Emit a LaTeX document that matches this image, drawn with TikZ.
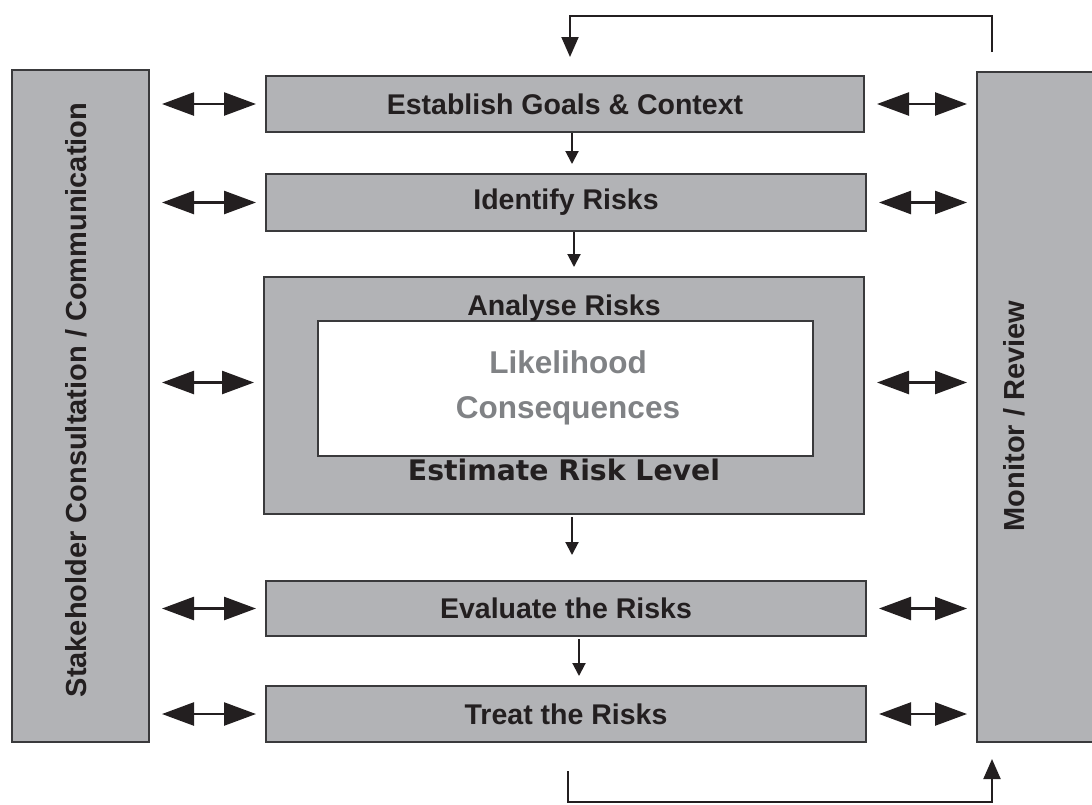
\documentclass[tikz,border=0pt]{standalone}
\usepackage{fontspec}
\setmainfont{Liberation Sans}
\newfontfamily\verdana{DejaVu Sans}
\usetikzlibrary{arrows.meta, positioning}
\definecolor{boxgrey}{HTML}{B2B3B6}
\definecolor{edgegrey}{HTML}{3A3A3C}
\definecolor{inkgrey}{HTML}{231F20}
\definecolor{softgrey}{HTML}{808285}
\tikzset{
  box/.style = {rectangle, draw=edgegrey, line width=2pt, fill=boxgrey, text=inkgrey,
                font=\bfseries\fontsize{28.5}{34}\selectfont, inner sep=0pt},
  bar/.style = {rectangle, draw=edgegrey, line width=2pt, fill=boxgrey, inner sep=0pt},
  bartext/.style = {rotate=90, text=inkgrey, font=\bfseries\fontsize{29}{34}\selectfont},
  flow/.style = {draw=inkgrey, line width=2pt, -{Triangle[length=13pt, width=13pt]}},
  link/.style = {draw=inkgrey, line width=2.5pt, shorten <=12pt, shorten >=9pt,
                 {Triangle[length=32pt, width=23pt]}-{Triangle[length=32pt, width=23pt]}},
  feed/.style = {draw=inkgrey, line width=2pt, -{Triangle[length=20pt, width=17pt]}}
}

\begin{document}
\begin{tikzpicture}[x=1pt, y=-1pt]
    \useasboundingbox (0,0) rectangle (1092,804);

    % side bars
    \node [bar, minimum width=137pt, minimum height=672pt] (stake) at (80.5, 406) {};
    \node [bartext] (stakeText) at (76, 400) {Stakeholder Consultation / Communication};
    \node [bar, minimum width=118pt, minimum height=670pt] (mon) at (1036, 407) {};
    \node [bartext] (monText) at (1014, 416) {Monitor / Review};

    % process steps
    \node [box, minimum width=598pt, minimum height=56pt] (est)  at (565, 104)   {Establish Goals \& Context};
    \node [box, minimum width=600pt, minimum height=57pt] (iden) at (566, 202.5) {Identify Risks};
    \node [box, minimum width=600pt, minimum height=237pt] (ana) at (564, 395.5) {};
    \node [box, minimum width=600pt, minimum height=55pt] (eva)  at (566, 608.5) {Evaluate the Risks};
    \node [box, minimum width=600pt, minimum height=56pt] (tre)  at (566, 714)   {Treat the Risks};

    % analysis box
    \node [rectangle, draw=edgegrey, line width=2pt, fill=white, inner sep=0pt,
           minimum width=495pt, minimum height=135pt] (inner) at (565.5, 388.5) {};
    \node [anchor=base, text=inkgrey, font=\bfseries\fontsize{28.5}{34}\selectfont] (anaTitle) at (564, 315) {Analyse Risks};
    \node [anchor=base, text=softgrey, font=\bfseries\fontsize{31.5}{36}\selectfont] (likely) at (568, 373) {Likelihood};
    \node [anchor=base, text=softgrey, font=\bfseries\fontsize{31.5}{36}\selectfont] (conseq) at (568, 418) {Consequences};
    \node [anchor=base, text=inkgrey, font=\verdana\bfseries\fontsize{28.3}{34}\selectfont] (level) at (564, 480) {Estimate Risk Level};

    % flow down
    \draw [flow, shorten >=9pt]  ([xshift=7pt]est.south)  -- ([xshift=7pt]est.south |- iden.north);
    \draw [flow, shorten >=9pt]  ([xshift=8pt]iden.south) -- ([xshift=8pt]iden.south |- ana.north);
    \draw [flow, shorten <=2pt, shorten >=25pt] ([xshift=8pt]ana.south) -- ([xshift=8pt]ana.south |- eva.north);
    \draw [flow, shorten <=2pt, shorten >=9pt]  ([xshift=13pt]eva.south) -- ([xshift=13pt]eva.south |- tre.north);

    % two-way links to the bars
    \foreach \b in {est, iden, eva, tre} {
        \draw [link] (stake.east |- \b.west) -- (\b.west);
        \draw [link] (\b.east) -- (mon.west |- \b.east);
    }
    \draw [link] ([yshift=13pt]stake.east |- ana.west) -- ([yshift=13pt]ana.west);
    \draw [link] ([yshift=13pt]ana.east) -- ([yshift=13pt]mon.west |- ana.east);

    % feedback loops
    \coordinate (monTop) at (992, 52);
    \draw [feed, shorten >=18pt] (monTop) -- ++(0,-36) -| ([xshift=5pt]est.north);
    \draw [feed, shorten <=28pt, shorten >=16pt] ([xshift=2pt]tre.south) -- ++(0,59) -| ([xshift=-44pt]mon.south);
\end{tikzpicture}
\end{document}
